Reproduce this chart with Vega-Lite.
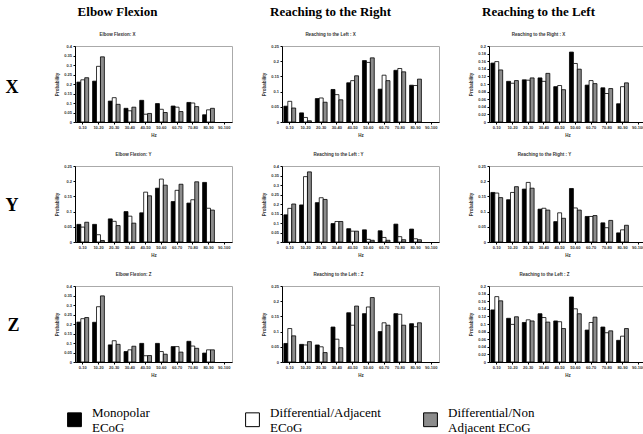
{
 "$schema": "https://vega.github.io/schema/vega-lite/v6.json",
 "padding": {"left": 5, "top": 5, "right": 2, "bottom": 3},
 "background": "white",
 "data": {"values": [
  {"m":"EF","a":"X","bin":"0-10","s":"M","p":0.21},{"m":"EF","a":"X","bin":"10-20","s":"M","p":0.215},{"m":"EF","a":"X","bin":"20-30","s":"M","p":0.11},{"m":"EF","a":"X","bin":"30-40","s":"M","p":0.072},{"m":"EF","a":"X","bin":"40-50","s":"M","p":0.114},{"m":"EF","a":"X","bin":"50-60","s":"M","p":0.097},{"m":"EF","a":"X","bin":"60-70","s":"M","p":0.084},{"m":"EF","a":"X","bin":"70-80","s":"M","p":0.103},{"m":"EF","a":"X","bin":"80-90","s":"M","p":0.038},
  {"m":"EF","a":"X","bin":"0-10","s":"DA","p":0.222},{"m":"EF","a":"X","bin":"10-20","s":"DA","p":0.293},{"m":"EF","a":"X","bin":"20-30","s":"DA","p":0.128},{"m":"EF","a":"X","bin":"30-40","s":"DA","p":0.059},{"m":"EF","a":"X","bin":"40-50","s":"DA","p":0.041},{"m":"EF","a":"X","bin":"50-60","s":"DA","p":0.067},{"m":"EF","a":"X","bin":"60-70","s":"DA","p":0.078},{"m":"EF","a":"X","bin":"70-80","s":"DA","p":0.1},{"m":"EF","a":"X","bin":"80-90","s":"DA","p":0.064},
  {"m":"EF","a":"X","bin":"0-10","s":"DN","p":0.233},{"m":"EF","a":"X","bin":"10-20","s":"DN","p":0.343},{"m":"EF","a":"X","bin":"20-30","s":"DN","p":0.093},{"m":"EF","a":"X","bin":"30-40","s":"DN","p":0.078},{"m":"EF","a":"X","bin":"40-50","s":"DN","p":0.045},{"m":"EF","a":"X","bin":"50-60","s":"DN","p":0.05},{"m":"EF","a":"X","bin":"60-70","s":"DN","p":0.055},{"m":"EF","a":"X","bin":"70-80","s":"DN","p":0.081},{"m":"EF","a":"X","bin":"80-90","s":"DN","p":0.072},
  {"m":"RR","a":"X","bin":"0-10","s":"M","p":0.052},{"m":"RR","a":"X","bin":"10-20","s":"M","p":0.03},{"m":"RR","a":"X","bin":"20-30","s":"M","p":0.077},{"m":"RR","a":"X","bin":"30-40","s":"M","p":0.107},{"m":"RR","a":"X","bin":"40-50","s":"M","p":0.129},{"m":"RR","a":"X","bin":"50-60","s":"M","p":0.202},{"m":"RR","a":"X","bin":"60-70","s":"M","p":0.108},{"m":"RR","a":"X","bin":"70-80","s":"M","p":0.17},{"m":"RR","a":"X","bin":"80-90","s":"M","p":0.121},
  {"m":"RR","a":"X","bin":"0-10","s":"DA","p":0.068},{"m":"RR","a":"X","bin":"10-20","s":"DA","p":0.015},{"m":"RR","a":"X","bin":"20-30","s":"DA","p":0.079},{"m":"RR","a":"X","bin":"30-40","s":"DA","p":0.09},{"m":"RR","a":"X","bin":"40-50","s":"DA","p":0.136},{"m":"RR","a":"X","bin":"50-60","s":"DA","p":0.196},{"m":"RR","a":"X","bin":"60-70","s":"DA","p":0.154},{"m":"RR","a":"X","bin":"70-80","s":"DA","p":0.176},{"m":"RR","a":"X","bin":"80-90","s":"DA","p":0.12},
  {"m":"RR","a":"X","bin":"0-10","s":"DN","p":0.046},{"m":"RR","a":"X","bin":"10-20","s":"DN","p":0.004},{"m":"RR","a":"X","bin":"20-30","s":"DN","p":0.065},{"m":"RR","a":"X","bin":"30-40","s":"DN","p":0.073},{"m":"RR","a":"X","bin":"40-50","s":"DN","p":0.152},{"m":"RR","a":"X","bin":"50-60","s":"DN","p":0.211},{"m":"RR","a":"X","bin":"60-70","s":"DN","p":0.136},{"m":"RR","a":"X","bin":"70-80","s":"DN","p":0.165},{"m":"RR","a":"X","bin":"80-90","s":"DN","p":0.141},
  {"m":"RL","a":"X","bin":"0-10","s":"M","p":0.155},{"m":"RL","a":"X","bin":"10-20","s":"M","p":0.107},{"m":"RL","a":"X","bin":"20-30","s":"M","p":0.111},{"m":"RL","a":"X","bin":"30-40","s":"M","p":0.116},{"m":"RL","a":"X","bin":"40-50","s":"M","p":0.093},{"m":"RL","a":"X","bin":"50-60","s":"M","p":0.184},{"m":"RL","a":"X","bin":"60-70","s":"M","p":0.097},{"m":"RL","a":"X","bin":"70-80","s":"M","p":0.09},{"m":"RL","a":"X","bin":"80-90","s":"M","p":0.048},
  {"m":"RL","a":"X","bin":"0-10","s":"DA","p":0.159},{"m":"RL","a":"X","bin":"10-20","s":"DA","p":0.102},{"m":"RL","a":"X","bin":"20-30","s":"DA","p":0.11},{"m":"RL","a":"X","bin":"30-40","s":"DA","p":0.107},{"m":"RL","a":"X","bin":"40-50","s":"DA","p":0.096},{"m":"RL","a":"X","bin":"50-60","s":"DA","p":0.154},{"m":"RL","a":"X","bin":"60-70","s":"DA","p":0.109},{"m":"RL","a":"X","bin":"70-80","s":"DA","p":0.075},{"m":"RL","a":"X","bin":"80-90","s":"DA","p":0.093},
  {"m":"RL","a":"X","bin":"0-10","s":"DN","p":0.137},{"m":"RL","a":"X","bin":"10-20","s":"DN","p":0.109},{"m":"RL","a":"X","bin":"20-30","s":"DN","p":0.116},{"m":"RL","a":"X","bin":"30-40","s":"DN","p":0.128},{"m":"RL","a":"X","bin":"40-50","s":"DN","p":0.085},{"m":"RL","a":"X","bin":"50-60","s":"DN","p":0.139},{"m":"RL","a":"X","bin":"60-70","s":"DN","p":0.101},{"m":"RL","a":"X","bin":"70-80","s":"DN","p":0.088},{"m":"RL","a":"X","bin":"80-90","s":"DN","p":0.103},
  {"m":"EF","a":"Y","bin":"0-10","s":"M","p":0.058},{"m":"EF","a":"Y","bin":"10-20","s":"M","p":0.058},{"m":"EF","a":"Y","bin":"20-30","s":"M","p":0.076},{"m":"EF","a":"Y","bin":"30-40","s":"M","p":0.1},{"m":"EF","a":"Y","bin":"40-50","s":"M","p":0.096},{"m":"EF","a":"Y","bin":"50-60","s":"M","p":0.177},{"m":"EF","a":"Y","bin":"60-70","s":"M","p":0.133},{"m":"EF","a":"Y","bin":"70-80","s":"M","p":0.128},{"m":"EF","a":"Y","bin":"80-90","s":"M","p":0.196},
  {"m":"EF","a":"Y","bin":"0-10","s":"DA","p":0.049},{"m":"EF","a":"Y","bin":"10-20","s":"DA","p":0.024},{"m":"EF","a":"Y","bin":"20-30","s":"DA","p":0.068},{"m":"EF","a":"Y","bin":"30-40","s":"DA","p":0.085},{"m":"EF","a":"Y","bin":"40-50","s":"DA","p":0.164},{"m":"EF","a":"Y","bin":"50-60","s":"DA","p":0.207},{"m":"EF","a":"Y","bin":"60-70","s":"DA","p":0.17},{"m":"EF","a":"Y","bin":"70-80","s":"DA","p":0.139},{"m":"EF","a":"Y","bin":"80-90","s":"DA","p":0.111},
  {"m":"EF","a":"Y","bin":"0-10","s":"DN","p":0.065},{"m":"EF","a":"Y","bin":"10-20","s":"DN","p":0.005},{"m":"EF","a":"Y","bin":"20-30","s":"DN","p":0.054},{"m":"EF","a":"Y","bin":"30-40","s":"DN","p":0.062},{"m":"EF","a":"Y","bin":"40-50","s":"DN","p":0.152},{"m":"EF","a":"Y","bin":"50-60","s":"DN","p":0.187},{"m":"EF","a":"Y","bin":"60-70","s":"DN","p":0.19},{"m":"EF","a":"Y","bin":"70-80","s":"DN","p":0.198},{"m":"EF","a":"Y","bin":"80-90","s":"DN","p":0.105},
  {"m":"RR","a":"Y","bin":"0-10","s":"M","p":0.143},{"m":"RR","a":"Y","bin":"10-20","s":"M","p":0.195},{"m":"RR","a":"Y","bin":"20-30","s":"M","p":0.207},{"m":"RR","a":"Y","bin":"30-40","s":"M","p":0.097},{"m":"RR","a":"Y","bin":"40-50","s":"M","p":0.07},{"m":"RR","a":"Y","bin":"50-60","s":"M","p":0.064},{"m":"RR","a":"Y","bin":"60-70","s":"M","p":0.059},{"m":"RR","a":"Y","bin":"70-80","s":"M","p":0.094},{"m":"RR","a":"Y","bin":"80-90","s":"M","p":0.068},
  {"m":"RR","a":"Y","bin":"0-10","s":"DA","p":0.177},{"m":"RR","a":"Y","bin":"10-20","s":"DA","p":0.344},{"m":"RR","a":"Y","bin":"20-30","s":"DA","p":0.233},{"m":"RR","a":"Y","bin":"30-40","s":"DA","p":0.108},{"m":"RR","a":"Y","bin":"40-50","s":"DA","p":0.057},{"m":"RR","a":"Y","bin":"50-60","s":"DA","p":0.014},{"m":"RR","a":"Y","bin":"60-70","s":"DA","p":0.024},{"m":"RR","a":"Y","bin":"70-80","s":"DA","p":0.028},{"m":"RR","a":"Y","bin":"80-90","s":"DA","p":0.017},
  {"m":"RR","a":"Y","bin":"0-10","s":"DN","p":0.2},{"m":"RR","a":"Y","bin":"10-20","s":"DN","p":0.369},{"m":"RR","a":"Y","bin":"20-30","s":"DN","p":0.224},{"m":"RR","a":"Y","bin":"30-40","s":"DN","p":0.108},{"m":"RR","a":"Y","bin":"40-50","s":"DN","p":0.057},{"m":"RR","a":"Y","bin":"50-60","s":"DN","p":0.009},{"m":"RR","a":"Y","bin":"60-70","s":"DN","p":0.009},{"m":"RR","a":"Y","bin":"70-80","s":"DN","p":0.012},{"m":"RR","a":"Y","bin":"80-90","s":"DN","p":0.012},
  {"m":"RL","a":"Y","bin":"0-10","s":"M","p":0.163},{"m":"RL","a":"Y","bin":"10-20","s":"M","p":0.139},{"m":"RL","a":"Y","bin":"20-30","s":"M","p":0.174},{"m":"RL","a":"Y","bin":"30-40","s":"M","p":0.108},{"m":"RL","a":"Y","bin":"40-50","s":"M","p":0.067},{"m":"RL","a":"Y","bin":"50-60","s":"M","p":0.176},{"m":"RL","a":"Y","bin":"60-70","s":"M","p":0.084},{"m":"RL","a":"Y","bin":"70-80","s":"M","p":0.063},{"m":"RL","a":"Y","bin":"80-90","s":"M","p":0.03},
  {"m":"RL","a":"Y","bin":"0-10","s":"DA","p":0.161},{"m":"RL","a":"Y","bin":"10-20","s":"DA","p":0.163},{"m":"RL","a":"Y","bin":"20-30","s":"DA","p":0.196},{"m":"RL","a":"Y","bin":"30-40","s":"DA","p":0.111},{"m":"RL","a":"Y","bin":"40-50","s":"DA","p":0.096},{"m":"RL","a":"Y","bin":"50-60","s":"DA","p":0.112},{"m":"RL","a":"Y","bin":"60-70","s":"DA","p":0.084},{"m":"RL","a":"Y","bin":"70-80","s":"DA","p":0.047},{"m":"RL","a":"Y","bin":"80-90","s":"DA","p":0.04},
  {"m":"RL","a":"Y","bin":"0-10","s":"DN","p":0.146},{"m":"RL","a":"Y","bin":"10-20","s":"DN","p":0.182},{"m":"RL","a":"Y","bin":"20-30","s":"DN","p":0.177},{"m":"RL","a":"Y","bin":"30-40","s":"DN","p":0.105},{"m":"RL","a":"Y","bin":"40-50","s":"DN","p":0.078},{"m":"RL","a":"Y","bin":"50-60","s":"DN","p":0.105},{"m":"RL","a":"Y","bin":"60-70","s":"DN","p":0.087},{"m":"RL","a":"Y","bin":"70-80","s":"DN","p":0.071},{"m":"RL","a":"Y","bin":"80-90","s":"DN","p":0.055},
  {"m":"EF","a":"Z","bin":"0-10","s":"M","p":0.21},{"m":"EF","a":"Z","bin":"10-20","s":"M","p":0.209},{"m":"EF","a":"Z","bin":"20-30","s":"M","p":0.09},{"m":"EF","a":"Z","bin":"30-40","s":"M","p":0.055},{"m":"EF","a":"Z","bin":"40-50","s":"M","p":0.098},{"m":"EF","a":"Z","bin":"50-60","s":"M","p":0.098},{"m":"EF","a":"Z","bin":"60-70","s":"M","p":0.081},{"m":"EF","a":"Z","bin":"70-80","s":"M","p":0.109},{"m":"EF","a":"Z","bin":"80-90","s":"M","p":0.047},
  {"m":"EF","a":"Z","bin":"0-10","s":"DA","p":0.228},{"m":"EF","a":"Z","bin":"10-20","s":"DA","p":0.291},{"m":"EF","a":"Z","bin":"20-30","s":"DA","p":0.112},{"m":"EF","a":"Z","bin":"30-40","s":"DA","p":0.064},{"m":"EF","a":"Z","bin":"40-50","s":"DA","p":0.033},{"m":"EF","a":"Z","bin":"50-60","s":"DA","p":0.055},{"m":"EF","a":"Z","bin":"60-70","s":"DA","p":0.081},{"m":"EF","a":"Z","bin":"70-80","s":"DA","p":0.084},{"m":"EF","a":"Z","bin":"80-90","s":"DA","p":0.064},
  {"m":"EF","a":"Z","bin":"0-10","s":"DN","p":0.234},{"m":"EF","a":"Z","bin":"10-20","s":"DN","p":0.348},{"m":"EF","a":"Z","bin":"20-30","s":"DN","p":0.093},{"m":"EF","a":"Z","bin":"30-40","s":"DN","p":0.083},{"m":"EF","a":"Z","bin":"40-50","s":"DN","p":0.034},{"m":"EF","a":"Z","bin":"50-60","s":"DN","p":0.041},{"m":"EF","a":"Z","bin":"60-70","s":"DN","p":0.052},{"m":"EF","a":"Z","bin":"70-80","s":"DN","p":0.072},{"m":"EF","a":"Z","bin":"80-90","s":"DN","p":0.064},
  {"m":"RR","a":"Z","bin":"0-10","s":"M","p":0.061},{"m":"RR","a":"Z","bin":"10-20","s":"M","p":0.058},{"m":"RR","a":"Z","bin":"20-30","s":"M","p":0.056},{"m":"RR","a":"Z","bin":"30-40","s":"M","p":0.115},{"m":"RR","a":"Z","bin":"40-50","s":"M","p":0.162},{"m":"RR","a":"Z","bin":"50-60","s":"M","p":0.159},{"m":"RR","a":"Z","bin":"60-70","s":"M","p":0.1},{"m":"RR","a":"Z","bin":"70-80","s":"M","p":0.159},{"m":"RR","a":"Z","bin":"80-90","s":"M","p":0.126},
  {"m":"RR","a":"Z","bin":"0-10","s":"DA","p":0.11},{"m":"RR","a":"Z","bin":"10-20","s":"DA","p":0.056},{"m":"RR","a":"Z","bin":"20-30","s":"DA","p":0.05},{"m":"RR","a":"Z","bin":"30-40","s":"DA","p":0.075},{"m":"RR","a":"Z","bin":"40-50","s":"DA","p":0.121},{"m":"RR","a":"Z","bin":"50-60","s":"DA","p":0.181},{"m":"RR","a":"Z","bin":"60-70","s":"DA","p":0.129},{"m":"RR","a":"Z","bin":"70-80","s":"DA","p":0.157},{"m":"RR","a":"Z","bin":"80-90","s":"DA","p":0.116},
  {"m":"RR","a":"Z","bin":"0-10","s":"DN","p":0.086},{"m":"RR","a":"Z","bin":"10-20","s":"DN","p":0.067},{"m":"RR","a":"Z","bin":"20-30","s":"DN","p":0.031},{"m":"RR","a":"Z","bin":"30-40","s":"DN","p":0.047},{"m":"RR","a":"Z","bin":"40-50","s":"DN","p":0.184},{"m":"RR","a":"Z","bin":"50-60","s":"DN","p":0.212},{"m":"RR","a":"Z","bin":"60-70","s":"DN","p":0.121},{"m":"RR","a":"Z","bin":"70-80","s":"DN","p":0.121},{"m":"RR","a":"Z","bin":"80-90","s":"DN","p":0.129},
  {"m":"RL","a":"Z","bin":"0-10","s":"M","p":0.137},{"m":"RL","a":"Z","bin":"10-20","s":"M","p":0.115},{"m":"RL","a":"Z","bin":"20-30","s":"M","p":0.104},{"m":"RL","a":"Z","bin":"30-40","s":"M","p":0.127},{"m":"RL","a":"Z","bin":"40-50","s":"M","p":0.108},{"m":"RL","a":"Z","bin":"50-60","s":"M","p":0.171},{"m":"RL","a":"Z","bin":"60-70","s":"M","p":0.084},{"m":"RL","a":"Z","bin":"70-80","s":"M","p":0.092},{"m":"RL","a":"Z","bin":"80-90","s":"M","p":0.057},
  {"m":"RL","a":"Z","bin":"0-10","s":"DA","p":0.172},{"m":"RL","a":"Z","bin":"10-20","s":"DA","p":0.099},{"m":"RL","a":"Z","bin":"20-30","s":"DA","p":0.111},{"m":"RL","a":"Z","bin":"30-40","s":"DA","p":0.117},{"m":"RL","a":"Z","bin":"40-50","s":"DA","p":0.106},{"m":"RL","a":"Z","bin":"50-60","s":"DA","p":0.14},{"m":"RL","a":"Z","bin":"60-70","s":"DA","p":0.104},{"m":"RL","a":"Z","bin":"70-80","s":"DA","p":0.077},{"m":"RL","a":"Z","bin":"80-90","s":"DA","p":0.068},
  {"m":"RL","a":"Z","bin":"0-10","s":"DN","p":0.161},{"m":"RL","a":"Z","bin":"10-20","s":"DN","p":0.119},{"m":"RL","a":"Z","bin":"20-30","s":"DN","p":0.108},{"m":"RL","a":"Z","bin":"30-40","s":"DN","p":0.105},{"m":"RL","a":"Z","bin":"40-50","s":"DN","p":0.088},{"m":"RL","a":"Z","bin":"50-60","s":"DN","p":0.127},{"m":"RL","a":"Z","bin":"60-70","s":"DN","p":0.118},{"m":"RL","a":"Z","bin":"70-80","s":"DN","p":0.082},{"m":"RL","a":"Z","bin":"80-90","s":"DN","p":0.088}
 ]},
 "config": {
  "view": {"stroke": "#aaaaaa", "strokeWidth": 1},
  "axis": {"domainColor": "black", "tickColor": "black", "tickSize": 2, "labelFontSize": 4, "labelFont": "Liberation Sans", "labelFontWeight": "bold", "labelColor": "#333333", "titleFontSize": 4.5, "titleFont": "Liberation Sans", "titleFontWeight": "bold", "titleColor": "#333333", "grid": false, "labelPadding": 1.5, "titlePadding": 3},
  "axisY": {"minExtent": 13, "maxExtent": 13},
  "axisX": {"labelAngle": 0},
  "title": {"font": "Liberation Sans", "fontSize": 4.5, "fontWeight": "bold", "color": "#333333", "offset": 8},
  "legend": {"orient": "none", "legendX": -8, "legendY": 366, "direction": "horizontal", "columns": 3, "gridAlign": "all", "columnPadding": 40, "symbolType": "square", "symbolSize": 190, "symbolStrokeColor": "black", "symbolStrokeWidth": 1, "labelFont": "Liberation Serif", "labelFontSize": 13, "labelLineHeight": 15, "labelColor": "black", "labelOffset": 10, "labelLimit": 300, "labelBaseline": "bottom", "title": null}
 },
 "spacing": 13,
 "resolve": {"scale": {"x": "independent", "y": "independent", "fill": "shared", "xOffset": "independent"}, "legend": {"fill": "shared"}},
 "vconcat": [
  {"bounds": "flush", "spacing": 50,
   "title": {"text": "X", "orient": "left", "angle": 0, "font": "Liberation Serif", "fontSize": 18, "fontWeight": "bold", "color": "black", "align": "right", "baseline": "middle", "offset": 22, "dy": -50},
   "resolve": {"scale": {"x": "independent", "y": "independent", "fill": "shared", "xOffset": "independent"}, "legend": {"fill": "shared"}},
   "hconcat": [
    {"width": 157, "height": 76,
     "title": {"text": "Elbow Flexion", "subtitle": "Elbow Flexion: X", "dx": -36, "font": "Liberation Serif", "fontSize": 13, "fontWeight": "bold", "color": "black", "subtitleFont": "Liberation Sans", "subtitleFontSize": 4.5, "subtitleFontWeight": "bold", "subtitleColor": "#333333", "subtitlePadding": 13},
     "transform": [{"filter": "datum.m == 'EF' && datum.a == 'X'"}],
     "mark": {"type": "bar", "stroke": "black", "strokeWidth": 0.8},
     "encoding": {
      "x": {"field": "bin", "type": "nominal", "scale": {"domain": ["0-10","10-20","20-30","30-40","40-50","50-60","60-70","70-80","80-90","90-100"], "paddingInner": 0.25, "paddingOuter": 0.12}, "axis": {"title": "Hz"}},
      "xOffset": {"field": "s", "type": "nominal", "scale": {"domain": ["M","DA","DN"]}},
      "y": {"field": "p", "type": "quantitative", "scale": {"domain": [0, 0.4]}, "axis": {"title": "Probability", "values": [0,0.05,0.1,0.15,0.2,0.25,0.3,0.35,0.4], "format": "~g"}},
      "fill": {"field": "s", "type": "nominal", "scale": {"domain": ["M","DA","DN"], "range": ["#000000","#ffffff","#8c8c8c"]}, "legend": {"labelExpr": "datum.value == 'M' ? ['Monopolar', 'ECoG'] : datum.value == 'DA' ? ['Differential/Adjacent', 'ECoG'] : ['Differential/Non', 'Adjacent ECoG']"}}
     }},
    {"width": 157, "height": 76,
     "title": {"text": "Reaching to the Right", "subtitle": "Reaching to the Left : X", "dx": -30, "font": "Liberation Serif", "fontSize": 13, "fontWeight": "bold", "color": "black", "subtitleFont": "Liberation Sans", "subtitleFontSize": 4.5, "subtitleFontWeight": "bold", "subtitleColor": "#333333", "subtitlePadding": 13},
     "transform": [{"filter": "datum.m == 'RR' && datum.a == 'X'"}],
     "mark": {"type": "bar", "stroke": "black", "strokeWidth": 0.8},
     "encoding": {
      "x": {"field": "bin", "type": "nominal", "scale": {"domain": ["0-10","10-20","20-30","30-40","40-50","50-60","60-70","70-80","80-90","90-100"], "paddingInner": 0.25, "paddingOuter": 0.12}, "axis": {"title": "Hz"}},
      "xOffset": {"field": "s", "type": "nominal", "scale": {"domain": ["M","DA","DN"]}},
      "y": {"field": "p", "type": "quantitative", "scale": {"domain": [0, 0.25]}, "axis": {"title": "Probability", "values": [0,0.05,0.1,0.15,0.2,0.25], "format": "~g"}},
      "fill": {"field": "s", "type": "nominal", "scale": {"domain": ["M","DA","DN"], "range": ["#000000","#ffffff","#8c8c8c"]}, "legend": {"labelExpr": "datum.value == 'M' ? ['Monopolar', 'ECoG'] : datum.value == 'DA' ? ['Differential/Adjacent', 'ECoG'] : ['Differential/Non', 'Adjacent ECoG']"}}
     }},
    {"width": 157, "height": 76,
     "title": {"text": "Reaching to the Left", "subtitle": "Reaching to the Right : X", "dx": -29, "font": "Liberation Serif", "fontSize": 13, "fontWeight": "bold", "color": "black", "subtitleFont": "Liberation Sans", "subtitleFontSize": 4.5, "subtitleFontWeight": "bold", "subtitleColor": "#333333", "subtitlePadding": 13},
     "transform": [{"filter": "datum.m == 'RL' && datum.a == 'X'"}],
     "mark": {"type": "bar", "stroke": "black", "strokeWidth": 0.8},
     "encoding": {
      "x": {"field": "bin", "type": "nominal", "scale": {"domain": ["0-10","10-20","20-30","30-40","40-50","50-60","60-70","70-80","80-90","90-100"], "paddingInner": 0.25, "paddingOuter": 0.12}, "axis": {"title": "Hz"}},
      "xOffset": {"field": "s", "type": "nominal", "scale": {"domain": ["M","DA","DN"]}},
      "y": {"field": "p", "type": "quantitative", "scale": {"domain": [0, 0.2]}, "axis": {"title": "Probability", "values": [0,0.02,0.04,0.06,0.08,0.1,0.12,0.14,0.16,0.18,0.2], "format": "~g"}},
      "fill": {"field": "s", "type": "nominal", "scale": {"domain": ["M","DA","DN"], "range": ["#000000","#ffffff","#8c8c8c"]}, "legend": {"labelExpr": "datum.value == 'M' ? ['Monopolar', 'ECoG'] : datum.value == 'DA' ? ['Differential/Adjacent', 'ECoG'] : ['Differential/Non', 'Adjacent ECoG']"}}
     }}
   ]},
  {"bounds": "flush", "spacing": 50,
   "title": {"text": "Y", "orient": "left", "angle": 0, "font": "Liberation Serif", "fontSize": 18, "fontWeight": "bold", "color": "black", "align": "right", "baseline": "middle", "offset": 22, "dy": -52},
   "resolve": {"scale": {"x": "independent", "y": "independent", "fill": "shared", "xOffset": "independent"}, "legend": {"fill": "shared"}},
   "hconcat": [
    {"width": 157, "height": 76,
     "title": {"text": "Elbow Flexion: Y", "dx": -20},
     "transform": [{"filter": "datum.m == 'EF' && datum.a == 'Y'"}],
     "mark": {"type": "bar", "stroke": "black", "strokeWidth": 0.8},
     "encoding": {
      "x": {"field": "bin", "type": "nominal", "scale": {"domain": ["0-10","10-20","20-30","30-40","40-50","50-60","60-70","70-80","80-90","90-100"], "paddingInner": 0.25, "paddingOuter": 0.12}, "axis": {"title": "Hz"}},
      "xOffset": {"field": "s", "type": "nominal", "scale": {"domain": ["M","DA","DN"]}},
      "y": {"field": "p", "type": "quantitative", "scale": {"domain": [0, 0.25]}, "axis": {"title": "Probability", "values": [0,0.05,0.1,0.15,0.2,0.25], "format": "~g"}},
      "fill": {"field": "s", "type": "nominal", "scale": {"domain": ["M","DA","DN"], "range": ["#000000","#ffffff","#8c8c8c"]}, "legend": {"labelExpr": "datum.value == 'M' ? ['Monopolar', 'ECoG'] : datum.value == 'DA' ? ['Differential/Adjacent', 'ECoG'] : ['Differential/Non', 'Adjacent ECoG']"}}
     }},
    {"width": 157, "height": 76,
     "title": {"text": "Reaching to the Left : Y", "dx": -22},
     "transform": [{"filter": "datum.m == 'RR' && datum.a == 'Y'"}],
     "mark": {"type": "bar", "stroke": "black", "strokeWidth": 0.8},
     "encoding": {
      "x": {"field": "bin", "type": "nominal", "scale": {"domain": ["0-10","10-20","20-30","30-40","40-50","50-60","60-70","70-80","80-90","90-100"], "paddingInner": 0.25, "paddingOuter": 0.12}, "axis": {"title": "Hz"}},
      "xOffset": {"field": "s", "type": "nominal", "scale": {"domain": ["M","DA","DN"]}},
      "y": {"field": "p", "type": "quantitative", "scale": {"domain": [0, 0.4]}, "axis": {"title": "Probability", "values": [0,0.05,0.1,0.15,0.2,0.25,0.3,0.35,0.4], "format": "~g"}},
      "fill": {"field": "s", "type": "nominal", "scale": {"domain": ["M","DA","DN"], "range": ["#000000","#ffffff","#8c8c8c"]}, "legend": {"labelExpr": "datum.value == 'M' ? ['Monopolar', 'ECoG'] : datum.value == 'DA' ? ['Differential/Adjacent', 'ECoG'] : ['Differential/Non', 'Adjacent ECoG']"}}
     }},
    {"width": 157, "height": 76,
     "title": {"text": "Reaching to the Right : Y", "dx": -23},
     "transform": [{"filter": "datum.m == 'RL' && datum.a == 'Y'"}],
     "mark": {"type": "bar", "stroke": "black", "strokeWidth": 0.8},
     "encoding": {
      "x": {"field": "bin", "type": "nominal", "scale": {"domain": ["0-10","10-20","20-30","30-40","40-50","50-60","60-70","70-80","80-90","90-100"], "paddingInner": 0.25, "paddingOuter": 0.12}, "axis": {"title": "Hz"}},
      "xOffset": {"field": "s", "type": "nominal", "scale": {"domain": ["M","DA","DN"]}},
      "y": {"field": "p", "type": "quantitative", "scale": {"domain": [0, 0.25]}, "axis": {"title": "Probability", "values": [0,0.05,0.1,0.15,0.2,0.25], "format": "~g"}},
      "fill": {"field": "s", "type": "nominal", "scale": {"domain": ["M","DA","DN"], "range": ["#000000","#ffffff","#8c8c8c"]}, "legend": {"labelExpr": "datum.value == 'M' ? ['Monopolar', 'ECoG'] : datum.value == 'DA' ? ['Differential/Adjacent', 'ECoG'] : ['Differential/Non', 'Adjacent ECoG']"}}
     }}
   ]},
  {"bounds": "flush", "spacing": 50,
   "title": {"text": "Z", "orient": "left", "angle": 0, "font": "Liberation Serif", "fontSize": 18, "fontWeight": "bold", "color": "black", "align": "right", "baseline": "middle", "offset": 22, "dy": -52},
   "resolve": {"scale": {"x": "independent", "y": "independent", "fill": "shared", "xOffset": "independent"}, "legend": {"fill": "shared"}},
   "hconcat": [
    {"width": 157, "height": 76,
     "title": {"text": "Elbow Flexion: Z", "dx": -20},
     "transform": [{"filter": "datum.m == 'EF' && datum.a == 'Z'"}],
     "mark": {"type": "bar", "stroke": "black", "strokeWidth": 0.8},
     "encoding": {
      "x": {"field": "bin", "type": "nominal", "scale": {"domain": ["0-10","10-20","20-30","30-40","40-50","50-60","60-70","70-80","80-90","90-100"], "paddingInner": 0.25, "paddingOuter": 0.12}, "axis": {"title": "Hz"}},
      "xOffset": {"field": "s", "type": "nominal", "scale": {"domain": ["M","DA","DN"]}},
      "y": {"field": "p", "type": "quantitative", "scale": {"domain": [0, 0.4]}, "axis": {"title": "Probability", "values": [0,0.05,0.1,0.15,0.2,0.25,0.3,0.35,0.4], "format": "~g"}},
      "fill": {"field": "s", "type": "nominal", "scale": {"domain": ["M","DA","DN"], "range": ["#000000","#ffffff","#8c8c8c"]}, "legend": {"labelExpr": "datum.value == 'M' ? ['Monopolar', 'ECoG'] : datum.value == 'DA' ? ['Differential/Adjacent', 'ECoG'] : ['Differential/Non', 'Adjacent ECoG']"}}
     }},
    {"width": 157, "height": 76,
     "title": {"text": "Reaching to the Left : Z", "dx": -22},
     "transform": [{"filter": "datum.m == 'RR' && datum.a == 'Z'"}],
     "mark": {"type": "bar", "stroke": "black", "strokeWidth": 0.8},
     "encoding": {
      "x": {"field": "bin", "type": "nominal", "scale": {"domain": ["0-10","10-20","20-30","30-40","40-50","50-60","60-70","70-80","80-90","90-100"], "paddingInner": 0.25, "paddingOuter": 0.12}, "axis": {"title": "Hz"}},
      "xOffset": {"field": "s", "type": "nominal", "scale": {"domain": ["M","DA","DN"]}},
      "y": {"field": "p", "type": "quantitative", "scale": {"domain": [0, 0.25]}, "axis": {"title": "Probability", "values": [0,0.05,0.1,0.15,0.2,0.25], "format": "~g"}},
      "fill": {"field": "s", "type": "nominal", "scale": {"domain": ["M","DA","DN"], "range": ["#000000","#ffffff","#8c8c8c"]}, "legend": {"labelExpr": "datum.value == 'M' ? ['Monopolar', 'ECoG'] : datum.value == 'DA' ? ['Differential/Adjacent', 'ECoG'] : ['Differential/Non', 'Adjacent ECoG']"}}
     }},
    {"width": 157, "height": 76,
     "title": {"text": "Reaching to the Left : Z", "dx": -23},
     "transform": [{"filter": "datum.m == 'RL' && datum.a == 'Z'"}],
     "mark": {"type": "bar", "stroke": "black", "strokeWidth": 0.8},
     "encoding": {
      "x": {"field": "bin", "type": "nominal", "scale": {"domain": ["0-10","10-20","20-30","30-40","40-50","50-60","60-70","70-80","80-90","90-100"], "paddingInner": 0.25, "paddingOuter": 0.12}, "axis": {"title": "Hz"}},
      "xOffset": {"field": "s", "type": "nominal", "scale": {"domain": ["M","DA","DN"]}},
      "y": {"field": "p", "type": "quantitative", "scale": {"domain": [0, 0.2]}, "axis": {"title": "Probability", "values": [0,0.02,0.04,0.06,0.08,0.1,0.12,0.14,0.16,0.18,0.2], "format": "~g"}},
      "fill": {"field": "s", "type": "nominal", "scale": {"domain": ["M","DA","DN"], "range": ["#000000","#ffffff","#8c8c8c"]}, "legend": {"labelExpr": "datum.value == 'M' ? ['Monopolar', 'ECoG'] : datum.value == 'DA' ? ['Differential/Adjacent', 'ECoG'] : ['Differential/Non', 'Adjacent ECoG']"}}
     }}
   ]}
 ]
}
